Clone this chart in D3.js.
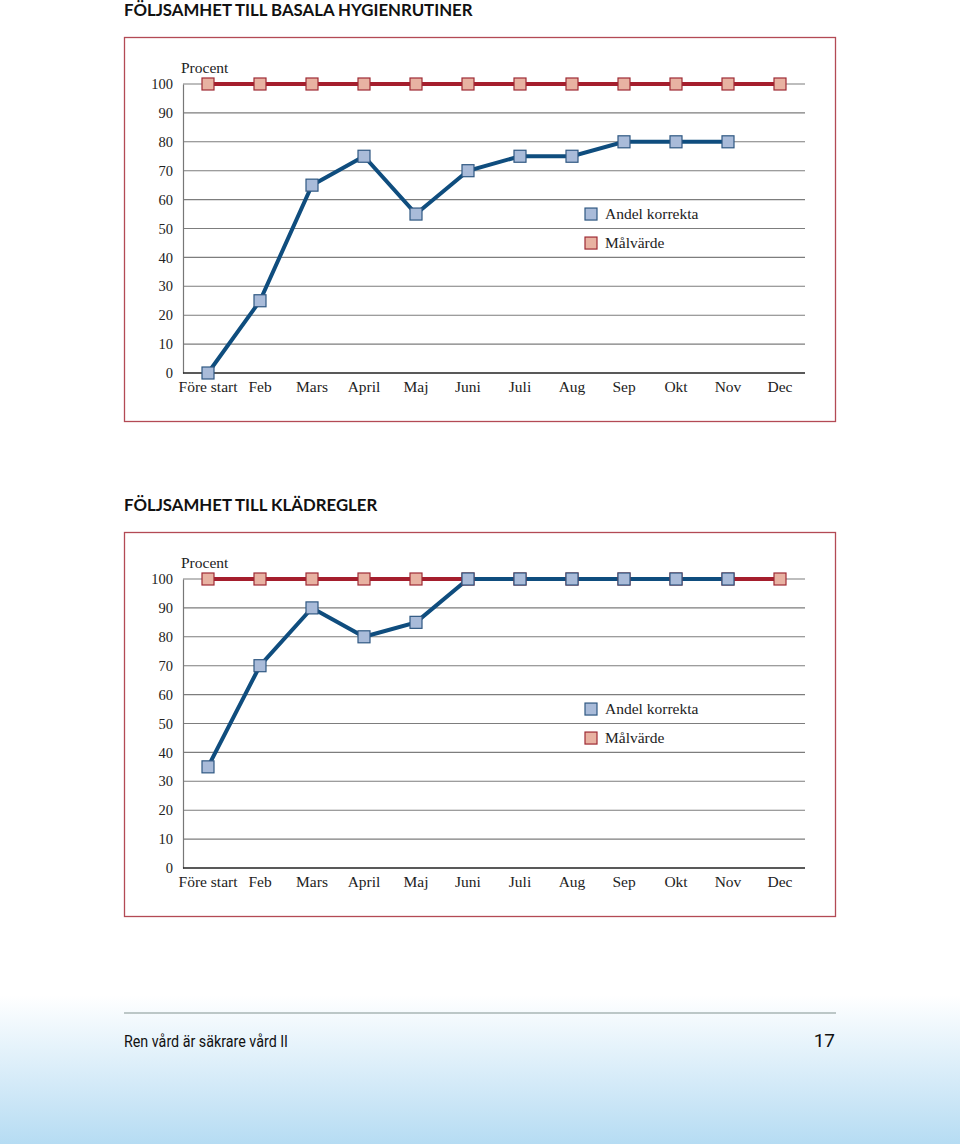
<!DOCTYPE html>
<html><head><meta charset="utf-8">
<script src="https://cdn.jsdelivr.net/npm/d3@7"></script>
<style>body{margin:0;background:#fff}svg{display:block}</style>
</head><body>
<script>
const categories = ["Före start","Feb","Mars","April","Maj","Juni","Juli","Aug","Sep","Okt","Nov","Dec"];
const yTicks = [0,10,20,30,40,50,60,70,80,90,100];
const title1 = "FÖLJSAMHET TILL BASALA HYGIENRUTINER";
const andel1 = [0,25,65,75,55,70,75,75,80,80,80,null];
const mal1 = [100,100,100,100,100,100,100,100,100,100,100,100];
const title2 = "FÖLJSAMHET TILL KLÄDREGLER";
const andel2 = [35,70,90,80,85,100,100,100,100,100,100,null];
const mal2 = [100,100,100,100,100,100,100,100,100,100,100,100];
const legendLabels = ["Andel korrekta","Målvärde"];

const W=960,H=1144;
const svg=d3.select("body").append("svg").attr("width",W).attr("height",H);
const defs=svg.append("defs");
const g=defs.append("linearGradient").attr("id","foot").attr("x1",0).attr("x2",0).attr("y1",0).attr("y2",1);
g.append("stop").attr("offset","0%").attr("stop-color","#ffffff");
g.append("stop").attr("offset","100%").attr("stop-color","#b6dcf3");
svg.append("rect").attr("x",0).attr("y",995).attr("width",W).attr("height",H-995).attr("fill","url(#foot)");
svg.append("line").attr("x1",124).attr("x2",836).attr("y1",1013).attr("y2",1013).attr("stroke","#a9b6b4").attr("stroke-width",1.5);
svg.append("text").attr("x",124).attr("y",1047).text("Ren vård är säkrare vård II")
  .attr("font-family","Liberation Sans Narrow, Roboto, sans-serif").attr("font-size",16)
  .attr("textLength",164).attr("lengthAdjust","spacingAndGlyphs").attr("fill","#111");
svg.append("text").attr("x",835).attr("y",1047).attr("text-anchor","end").text("17")
  .attr("font-family","Liberation Sans Narrow, Roboto, sans-serif").attr("font-size",19).attr("fill","#111");

const serif="Liberation Serif, Times New Roman, serif";
const fs=15.5;
function chart(top, title, andel, mal){
  svg.append("text").attr("x",124).attr("y",top-21).text(title)
    .attr("font-family","Lato, sans-serif").attr("font-weight","bold").attr("font-size",16.8).attr("fill","#111");
  svg.append("rect").attr("x",124.5).attr("y",top+0.5).attr("width",711).attr("height",384)
    .attr("fill","#fff").attr("stroke","#b34a55").attr("stroke-width",1.3);
  const x=d3.scaleBand().domain(categories).range([182,806]);
  const y=d3.scaleLinear().domain([0,100]).range([top+336,top+47]);
  const gg=svg.append("g");
  gg.selectAll(".grid").data(yTicks.filter(t=>t>0)).join("line")
    .attr("x1",183).attr("x2",805).attr("y1",d=>y(d)).attr("y2",d=>y(d))
    .attr("stroke","#7d7d7d").attr("stroke-width",1.1);
  const ya=gg.append("g").attr("transform","translate(183,0)").call(d3.axisLeft(y).tickValues(yTicks).tickSize(0).tickPadding(10));
  ya.select(".domain").attr("stroke","#777").attr("stroke-width",1.2);
  ya.selectAll("text").attr("font-family",serif).attr("font-size",14.5).attr("fill","#222");
  const xa=gg.append("g").attr("transform",`translate(0,${y(0)})`).call(d3.axisBottom(x).tickSize(0).tickPadding(8));
  xa.select(".domain").attr("d",`M183,0H805`).attr("stroke","#222").attr("stroke-width",1.6);
  xa.selectAll("text").attr("font-family",serif).attr("font-size",fs).attr("fill","#222");
  gg.append("text").attr("x",181).attr("y",y(100)-11).text("Procent").attr("font-family",serif).attr("font-size",fs).attr("fill","#222");
  const cx=d=>x(d.c)+x.bandwidth()/2;
  const line=d3.line().defined(d=>d.v!=null).x(cx).y(d=>y(d.v));
  const md=categories.map((c,i)=>({c,v:mal[i]}));
  const ad=categories.map((c,i)=>({c,v:andel[i]}));
  gg.append("path").attr("d",line(md)).attr("fill","none").attr("stroke","#a51e2d").attr("stroke-width",4);
  gg.append("path").attr("d",line(ad)).attr("fill","none").attr("stroke","#0f4d7e").attr("stroke-width",4);
  const s=12;
  gg.selectAll(".mm").data(md.filter(d=>d.v!=null)).join("rect")
    .attr("x",d=>cx(d)-s/2).attr("y",d=>y(d.v)-s/2).attr("width",s).attr("height",s)
    .attr("fill","#e8b2a2").attr("stroke","#9e2a34").attr("stroke-width",1.2);
  gg.selectAll(".am").data(ad.filter(d=>d.v!=null)).join("rect")
    .attr("x",d=>cx(d)-s/2).attr("y",d=>y(d.v)-s/2).attr("width",s).attr("height",s)
    .attr("fill","#a9bbd9").attr("stroke","#2f5882").attr("stroke-width",1.2);
  const lg=gg.append("g");
  const lcols=[["#a9bbd9","#2f5882"],["#e8b2a2","#9e2a34"]];
  legendLabels.forEach((l,i)=>{
    const ly=y(55)+i*29;
    lg.append("rect").attr("x",585).attr("y",ly-6).attr("width",12).attr("height",12)
      .attr("fill",lcols[i][0]).attr("stroke",lcols[i][1]).attr("stroke-width",1.2);
    lg.append("text").attr("x",605).attr("y",ly+5).text(l).attr("font-family",serif).attr("font-size",fs).attr("fill","#222");
  });
}
chart(37,title1,andel1,mal1);
chart(532,title2,andel2,mal2);
</script>
</body></html>
